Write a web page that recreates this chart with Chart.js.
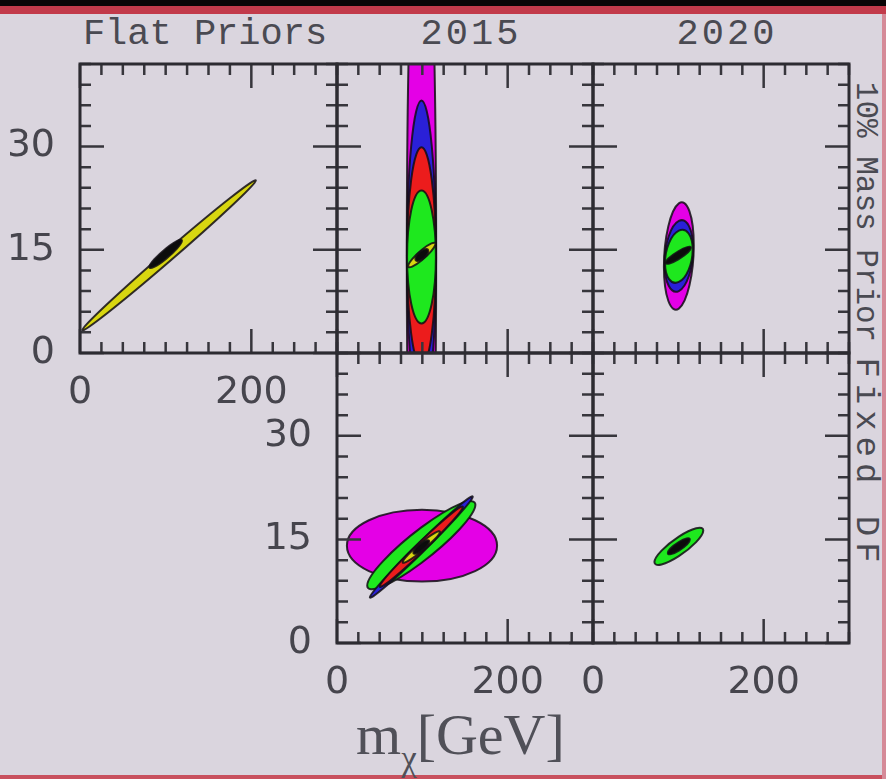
<!DOCTYPE html>
<html><head><meta charset="utf-8">
<script src="https://cdn.jsdelivr.net/npm/chart.js@4/dist/chart.umd.min.js"></script>
<style>
html,body{margin:0;padding:0;}
body{width:886px;height:779px;background:#dad5de;position:relative;overflow:hidden;}
canvas{position:absolute;left:0;top:0;}
.t{position:absolute;white-space:nowrap;color:#4a4a52;}
.ttl{font-family:'Liberation Mono',monospace;font-size:37px;line-height:38px;top:15px;transform:translateX(-50%);}
.side{font-family:'Liberation Mono',monospace;line-height:34px;}
</style></head><body>
<div style="position:absolute;left:0;top:0;width:886px;height:6px;background:#0a0506"></div>
<div style="position:absolute;left:0;top:6px;width:886px;height:8px;background:#c23a4a"></div>
<div style="position:absolute;left:0;top:775px;width:886px;height:4px;background:#c8505e"></div>
<div style="position:absolute;left:882px;top:14px;width:4px;height:765px;background:#d58a98"></div>

<div class="t ttl" style="left:205px">Flat Priors</div>
<div class="t ttl" style="left:471px;letter-spacing:3px">2015</div>
<div class="t ttl" style="left:727px;letter-spacing:3px">2020</div>
<div class="t side" style="left:865px;top:212px;font-size:31px;transform:translate(-50%,-50%) rotate(90deg)">10% Mass Prior</div>
<div class="t side" style="left:866px;top:463px;font-size:34px;letter-spacing:6px;transform:translate(-50%,-50%) rotate(90deg)">Fixed DF</div>
<div class="t" style="left:356px;top:706px;font-family:'Liberation Serif',serif;font-size:58px;line-height:58px;color:#505058">m<span style="font-size:35px;position:relative;top:16px">χ</span>[GeV]</div>

<script>
// ---- axes ----
const xRange = [0, 300];
const yRange = [0, 42];
const xTickLabels = [0, 200];
const yTickLabels = [0, 15, 30];
const xMinorTicks = [0, 25, 50, 75, 100, 125, 150, 175, 200, 225, 250, 275, 300];
const xMajorTicks = [0, 200];
const yMinorTicks = [0, 3, 6, 9, 12, 15, 18, 21, 24, 27, 30, 33, 36, 39, 42];
const yMajorTicks = [0, 15, 30];

// ---- error ellipses: [series, meanX (GeV), meanY, sigmaX, sigmaY, correlation] ----
const flatPriors = [
  ['yellow', 104, 14.2, 101.25, 10.91, 0.9962],
  ['black', 100, 14.4, 19.0, 2.05, 0.93]
];
const massPrior2015 = [
  ['magenta', 99, 14.0, 17.2, 60, 0.0],
  ['blue', 99, 14.0, 17.1, 22.7, 0.0],
  ['red', 99, 14.0, 17.0, 15.9, 0.0],
  ['green', 99, 13.95, 16.9, 9.65, 0.0],
  ['yellow', 99.4, 14.24, 16.0, 1.79, 0.905],
  ['black', 99.4, 14.24, 7.5, 0.86, 0.68]
];
const massPrior2020 = [
  ['magenta', 100.6, 14.1, 17.5, 7.8, 0.2],
  ['blue', 100.6, 14.1, 16.8, 5.2, 0.2],
  ['green', 100.6, 14.05, 16.2, 3.85, 0.25],
  ['black', 100, 14.2, 14.7, 1.24, 0.88]
];
const fixedDF2015 = [
  ['magenta', 99.6, 14.1, 88, 5.2, 0.0],
  ['green', 98.8, 14.17, 63.4, 6.38, 0.915],
  ['blue', 98.8, 13.9, 60.3, 7.34, 0.992],
  ['red', 98.8, 13.95, 48.7, 5.83, 0.988],
  ['yellow', 98.8, 13.9, 21.8, 2.29, 0.958],
  ['black', 98.8, 13.9, 9.25, 0.99, 0.83]
];
const fixedDF2020 = [
  ['green', 100.6, 14.0, 28.65, 2.69, 0.85],
  ['black', 100.6, 14.0, 12.9, 1.16, 0.85]
];

// ---- styles ----
const COLORS = {magenta:'#e400e6', blue:'#2a20d8', red:'#ec1c1c', green:'#1ee81e', yellow:'#d8d610', black:'#0c0c0c'};
const PANELS = [
  {rows: flatPriors,    frame:{left:80,  top:64,  right:337, bottom:353}, showX:true,  showY:true},
  {rows: massPrior2015, frame:{left:337, top:64,  right:593, bottom:353}, showX:false, showY:false},
  {rows: massPrior2020, frame:{left:593, top:64,  right:849, bottom:353}, showX:false, showY:false},
  {rows: fixedDF2015,   frame:{left:337, top:353, right:593, bottom:643}, showX:true,  showY:true},
  {rows: fixedDF2020,   frame:{left:593, top:353, right:849, bottom:643}, showX:true,  showY:false}
];

const ellipsePlugin = {
  id: 'ellipses',
  beforeDatasetsDraw(chart) {
    const ctx = chart.ctx, xs = chart.scales.x, ys = chart.scales.y, ca = chart.chartArea;
    ctx.save();
    ctx.beginPath();
    ctx.rect(ca.left, ca.top, ca.right - ca.left, ca.bottom - ca.top);
    ctx.clip();
    chart.data.datasets.forEach(ds => {
      const p = ds.data[0];
      const cx = xs.getPixelForValue(p.x), cy = ys.getPixelForValue(p.y);
      const l11 = p.sx, l21 = p.rho * p.sy, l22 = p.sy * Math.sqrt(1 - p.rho * p.rho);
      const ux = xs.getPixelForValue(p.x + l11) - cx;
      const uy = ys.getPixelForValue(p.y + l21) - cy;
      const vy = ys.getPixelForValue(p.y + l22) - cy;
      ctx.save();
      ctx.transform(ux, uy, 0, vy, cx, cy);
      ctx.beginPath();
      ctx.arc(0, 0, 1, 0, Math.PI * 2);
      ctx.restore();
      ctx.fillStyle = ds.backgroundColor;
      ctx.fill();
      ctx.lineWidth = 2;
      ctx.strokeStyle = 'rgba(18,14,20,0.85)';
      ctx.stroke();
    });
    ctx.restore();
  },
  afterDatasetsDraw(chart) {
    const ctx = chart.ctx, xs = chart.scales.x, ys = chart.scales.y, ca = chart.chartArea;
    ctx.save();
    ctx.strokeStyle = '#37363c';
    ctx.lineWidth = 2.5;
    ctx.beginPath();
    xMinorTicks.forEach(v => {
      const x = xs.getPixelForValue(v);
      const len = xMajorTicks.includes(v) ? 24 : 11;
      ctx.moveTo(x, ca.bottom); ctx.lineTo(x, ca.bottom - len);
      ctx.moveTo(x, ca.top); ctx.lineTo(x, ca.top + len);
    });
    yMinorTicks.forEach(v => {
      const y = ys.getPixelForValue(v);
      const len = yMajorTicks.includes(v) ? 24 : 11;
      ctx.moveTo(ca.left, y); ctx.lineTo(ca.left + len, y);
      ctx.moveTo(ca.right, y); ctx.lineTo(ca.right - len, y);
    });
    ctx.stroke();
    ctx.lineWidth = 3;
    ctx.strokeStyle = '#2c2b31';
    ctx.strokeRect(ca.left, ca.top, ca.right - ca.left, ca.bottom - ca.top);
    ctx.restore();
  }
};

const W = 886, H = 779, AXW = 70, AXH = 70;
const tickFont = {family: "'DejaVu Sans', sans-serif", size: 38};

PANELS.forEach(panel => {
  const cv = document.createElement('canvas');
  cv.width = W; cv.height = H;
  document.body.appendChild(cv);
  const f = panel.frame;
  new Chart(cv, {
    type: 'scatter',
    data: {
      datasets: panel.rows.map(r => ({
        label: r[0],
        data: [{x: r[1], y: r[2], sx: r[3], sy: r[4], rho: r[5]}],
        backgroundColor: COLORS[r[0]],
        pointRadius: 0
      }))
    },
    options: {
      responsive: false,
      animation: false,
      events: [],
      layout: {padding: {
        left: f.left - (panel.showY ? AXW : 0),
        top: f.top,
        right: W - f.right,
        bottom: H - f.bottom - (panel.showX ? AXH : 0)
      }},
      plugins: {legend: {display: false}, tooltip: {enabled: false}, title: {display: false}},
      scales: {
        x: {
          type: 'linear', min: xRange[0], max: xRange[1], position: 'bottom',
          display: panel.showX,
          grid: {display: false, drawTicks: false}, border: {display: false},
          afterBuildTicks: s => { s.ticks = xTickLabels.map(v => ({value: v})); },
          afterFit: s => { s.height = panel.showX ? AXH : 0; },
          ticks: {autoSkip: false, maxRotation: 0, padding: 17, font: tickFont, color: '#46454d'}
        },
        y: {
          type: 'linear', min: yRange[0], max: yRange[1], position: 'left',
          display: panel.showY,
          grid: {display: false, drawTicks: false}, border: {display: false},
          afterBuildTicks: s => { s.ticks = yTickLabels.map(v => ({value: v})); },
          afterFit: s => { s.width = panel.showY ? AXW : 0; },
          ticks: {autoSkip: false, padding: 25, font: tickFont, color: '#46454d'}
        }
      }
    },
    plugins: [ellipsePlugin]
  });
});
</script>
</body></html>
